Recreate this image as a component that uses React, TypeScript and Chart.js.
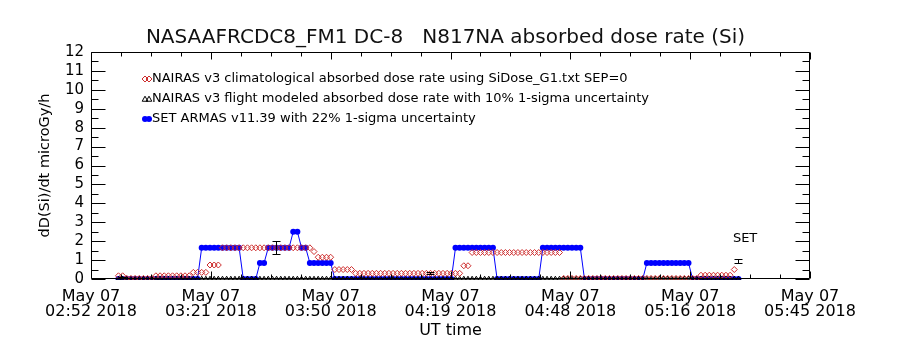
import React, { useEffect, useRef } from 'react';
import { Chart, registerables } from 'chart.js';

Chart.register(...registerables);

// ---------------- data ----------------
const TITLE = 'NASAAFRCDC8_FM1 DC-8   N817NA absorbed dose rate (Si)';
const Y_TITLE = 'dD(Si)/dt microGy/h';
const X_TITLE = 'UT time';

// x axis: minutes after 00:00 UT on 2018-05-07
const X_TICK_MINUTES = [172.9, 201.7, 230.5, 259.3, 288.1, 316.9, 345.7];
const X_TICK_LABELS = [
  ['May 07', '02:52 2018'],
  ['May 07', '03:21 2018'],
  ['May 07', '03:50 2018'],
  ['May 07', '04:19 2018'],
  ['May 07', '04:48 2018'],
  ['May 07', '05:16 2018'],
  ['May 07', '05:45 2018'],
];
const Y_MIN = 0;
const Y_MAX = 12;

// one sample per minute, first sample at this time (minutes UT)
const SAMPLE_START = 179.5;
const SAMPLE_STEP = 1;

const NAIRAS_CLIM_LABEL = 'NAIRAS v3 climatological absorbed dose rate using SiDose_G1.txt SEP=0';
const NAIRAS_CLIM = [
  0.17, 0.17,
  0.03, 0.03, 0.03, 0.03, 0.03, 0.03, 0.03,
  0.17, 0.17, 0.17, 0.17, 0.17, 0.17, 0.17, 0.17, 0.17,
  0.35, 0.35, 0.35, 0.35,
  0.74, 0.74, 0.74,
  1.65, 1.65, 1.65, 1.65, 1.65, 1.65, 1.65, 1.65, 1.65, 1.65, 1.65,
  1.65, 1.65, 1.65, 1.65, 1.65, 1.65, 1.65, 1.65, 1.65, 1.65, 1.65,
  1.45,
  1.15, 1.15, 1.15, 1.15,
  0.5, 0.5, 0.5, 0.5, 0.5,
  0.3, 0.3, 0.3, 0.3, 0.3, 0.3, 0.3, 0.3, 0.3, 0.3, 0.3, 0.3, 0.3,
  0.3, 0.3, 0.3, 0.3, 0.3, 0.3, 0.3, 0.3, 0.3, 0.3, 0.3, 0.3, 0.3,
  0.7, 0.7,
  1.4, 1.4, 1.4, 1.4, 1.4, 1.4, 1.4, 1.4, 1.4, 1.4, 1.4,
  1.4, 1.4, 1.4, 1.4, 1.4, 1.4, 1.4, 1.4, 1.4, 1.4, 1.4,
  0.03, 0.03, 0.03, 0.03, 0.03, 0.03, 0.03, 0.03, 0.03, 0.03, 0.03,
  0.03, 0.03, 0.03, 0.03, 0.03, 0.03, 0.03, 0.03, 0.03, 0.03, 0.03,
  0.03, 0.03, 0.03, 0.03, 0.03, 0.03, 0.03, 0.03, 0.03, 0.03, 0.03,
  0.2, 0.2, 0.2, 0.2, 0.2, 0.2, 0.2, 0.2,
  0.5,
];

const NAIRAS_FLIGHT_LABEL = 'NAIRAS v3 flight modeled absorbed dose rate with 10% 1-sigma uncertainty';
const NAIRAS_FLIGHT = [
  0.02, 0.02, 0.02, 0.02, 0.02, 0.02, 0.02, 0.02, 0.02, 0.02,
  0.02, 0.02, 0.02, 0.02, 0.02, 0.02, 0.02, 0.02, 0.02, 0.02,
  0.02, 0.02, 0.02, 0.02, 0.02, 0.02, 0.02, 0.02, 0.02, 0.02,
  0.02, 0.02, 0.02, 0.02, 0.02, 0.02, 0.02, 0.02, 0.02, 0.02,
  0.02, 0.02, 0.02, 0.02, 0.02, 0.02, 0.02, 0.02, 0.02, 0.02,
  0.02, 0.02, 0.02, 0.02, 0.02, 0.02, 0.02, 0.02, 0.02, 0.02,
  0.02, 0.02, 0.02, 0.02, 0.02, 0.02, 0.02, 0.02, 0.02, 0.02,
  0.02, 0.02, 0.02, 0.02, 0.02, 0.02, 0.02, 0.02, 0.02, 0.02,
  0.02, 0.02, 0.02, 0.02, 0.02, 0.02, 0.02, 0.02, 0.02, 0.02,
  0.02, 0.02, 0.02, 0.02, 0.02, 0.02, 0.02, 0.02, 0.02, 0.02,
  0.02, 0.02, 0.02, 0.02, 0.02, 0.02, 0.02, 0.02, 0.02, 0.02,
  0.02, 0.02, 0.02, 0.02, 0.02, 0.02, 0.02, 0.02, 0.02, 0.02,
  0.02, 0.02, 0.02, 0.02, 0.02, 0.02, 0.02, 0.02, 0.02, 0.02,
  0.02, 0.02, 0.02, 0.02, 0.02, 0.02, 0.02, 0.02, 0.02, 0.02,
  0.02, 0.02, 0.02, 0.02, 0.02, 0.02, 0.02, 0.02, 0.02, 0.02,
];

const SET_LABEL = 'SET ARMAS v11.39 with 22% 1-sigma uncertainty';
const SET_ARMAS = [
  0, 0, 0, 0, 0, 0, 0, 0, 0, 0, 0, 0, 0, 0, 0, 0, 0, 0, 0, 0,
  1.65, 1.65, 1.65, 1.65, 1.65, 1.65, 1.65, 1.65, 1.65, 1.65,
  0, 0, 0, 0,
  0.85, 0.85,
  1.65, 1.65, 1.65, 1.65, 1.65, 1.65,
  2.5, 2.5,
  1.65, 1.65,
  0.85, 0.85, 0.85, 0.85, 0.85, 0.85,
  0, 0, 0, 0, 0, 0, 0, 0, 0, 0, 0, 0, 0, 0, 0,
  0, 0, 0, 0, 0, 0, 0, 0, 0, 0, 0, 0, 0, 0,
  1.65, 1.65, 1.65, 1.65, 1.65, 1.65, 1.65, 1.65, 1.65, 1.65,
  0, 0, 0, 0, 0, 0, 0, 0, 0, 0, 0,
  1.65, 1.65, 1.65, 1.65, 1.65, 1.65, 1.65, 1.65, 1.65, 1.65,
  0, 0, 0, 0, 0, 0, 0, 0, 0, 0, 0, 0, 0, 0, 0,
  0.85, 0.85, 0.85, 0.85, 0.85, 0.85, 0.85, 0.85, 0.85, 0.85, 0.85,
  0, 0, 0, 0, 0, 0, 0, 0, 0, 0, 0, 0,
];

// representative 1-sigma error bars
const ERR_MINUTES = [180.3, 217.4, 254.4, 328.4];
const ERR_VALUES = [0.08, 1.65, 0.33, 0.94];
const ERR_SIGMAS = [0.02, 0.34, 0.05, 0.1];

// "SET" annotation
const NOTE_TEXT = 'SET';
const NOTE_MINUTE = 330.1;
const NOTE_VALUE = 2.15;

// ---------------- styles ----------------
const FONT = 'DejaVu Sans';
const RED = 'rgb(205,45,45)';
const BLUE = '#0000ff';
const BLACK = '#000000';

const toPoints = (vals: number[]) =>
  vals.map((v, i) => ({ x: SAMPLE_START + i * SAMPLE_STEP, y: v }));

function drawMarker(ctx: CanvasRenderingContext2D, kind: string, x: number, y: number, color: string) {
  ctx.beginPath();
  if (kind === 'diamond') {
    const r = 3;
    ctx.moveTo(x - r, y); ctx.lineTo(x, y - r); ctx.lineTo(x + r, y); ctx.lineTo(x, y + r); ctx.closePath();
    ctx.strokeStyle = color; ctx.lineWidth = 1; ctx.stroke();
  } else if (kind === 'triangle') {
    const r = 2.8;
    ctx.moveTo(x, y - r); ctx.lineTo(x + r, y + r * 0.8); ctx.lineTo(x - r, y + r * 0.8); ctx.closePath();
    ctx.strokeStyle = color; ctx.lineWidth = 1; ctx.stroke();
  } else {
    ctx.arc(x, y, 3, 0, Math.PI * 2);
    ctx.fillStyle = color; ctx.fill();
  }
}

const idlPlugin = {
  id: 'idlDecor',
  afterDatasetsDraw(chart: any) {
    const { ctx, chartArea: a, scales } = chart;
    const xs = scales.x;
    const ys = scales.y;
    ctx.save();
    ctx.strokeStyle = BLACK;
    ctx.lineWidth = 1;

    // error bars
    ERR_MINUTES.forEach((m, k) => {
      const px = Math.round(xs.getPixelForValue(m)) + 0.5;
      const t = Math.round(ys.getPixelForValue(ERR_VALUES[k] + ERR_SIGMAS[k])) + 0.5;
      const b = Math.round(ys.getPixelForValue(ERR_VALUES[k] - ERR_SIGMAS[k])) + 0.5;
      ctx.beginPath();
      ctx.moveTo(px, t); ctx.lineTo(px, b);
      ctx.moveTo(px - 4, t); ctx.lineTo(px + 4, t);
      ctx.moveTo(px - 4, b); ctx.lineTo(px + 4, b);
      ctx.stroke();
    });

    // frame
    const L = Math.round(a.left) + 0.5;
    const R = Math.round(a.right) - 0.5;
    const T = Math.round(a.top) + 0.5;
    const B = Math.round(a.bottom) - 0.5;
    ctx.beginPath();
    ctx.rect(L, T, R - L, B - T);
    ctx.stroke();

    // y ticks (inward, both sides)
    ctx.beginPath();
    for (let v = Y_MIN; v <= Y_MAX; v += 0.5) {
      const py = Math.round(ys.getPixelForValue(v)) + 0.5;
      const len = Number.isInteger(v) ? 14 : 7;
      ctx.moveTo(L, py); ctx.lineTo(L + len, py);
      ctx.moveTo(R, py); ctx.lineTo(R - len, py);
    }
    // x ticks (inward, top and bottom)
    X_TICK_MINUTES.forEach((m, k) => {
      const px = Math.round(xs.getPixelForValue(m)) + 0.5;
      ctx.moveTo(px, B); ctx.lineTo(px, B - 7);
      ctx.moveTo(px, T); ctx.lineTo(px, T + 7);
      if (k < X_TICK_MINUTES.length - 1) {
        const next = X_TICK_MINUTES[k + 1];
        for (let q = 1; q < 4; q++) {
          const mm = m + ((next - m) * q) / 4;
          const qx = Math.round(xs.getPixelForValue(mm)) + 0.5;
          ctx.moveTo(qx, B); ctx.lineTo(qx, B - 4);
          ctx.moveTo(qx, T); ctx.lineTo(qx, T + 4);
        }
      }
    });
    ctx.stroke();

    // legend
    const items = [
      { kind: 'diamond', color: RED, text: NAIRAS_CLIM_LABEL },
      { kind: 'triangle', color: BLACK, text: NAIRAS_FLIGHT_LABEL },
      { kind: 'circle', color: BLUE, text: SET_LABEL },
    ];
    ctx.font = `13px "${FONT}"`;
    ctx.textAlign = 'left';
    ctx.textBaseline = 'middle';
    items.forEach((it, k) => {
      const ly = a.top + 27 + k * 20;
      const lx = a.left + 54;
      drawMarker(ctx, it.kind, lx, ly, it.color);
      drawMarker(ctx, it.kind, lx + 4, ly, it.color);
      ctx.fillStyle = BLACK;
      ctx.fillText(it.text, lx + 7, ly);
    });

    // SET note
    ctx.font = `13px "${FONT}"`;
    ctx.textAlign = 'center';
    ctx.fillStyle = BLACK;
    ctx.fillText(NOTE_TEXT, xs.getPixelForValue(NOTE_MINUTE), ys.getPixelForValue(NOTE_VALUE));

    // title
    ctx.font = `20px "${FONT}"`;
    ctx.fillStyle = '#111';
    ctx.textAlign = 'center';
    ctx.fillText(TITLE, (a.left + a.right) / 2 - 5, 38);
    ctx.restore();
  },
};

export default function App() {
  const ref = useRef<HTMLCanvasElement | null>(null);

  useEffect(() => {
    if (!ref.current) return;
    const chart = new Chart(ref.current, {
      type: 'line',
      data: {
        datasets: [
          {
            label: NAIRAS_CLIM_LABEL,
            data: toPoints(NAIRAS_CLIM),
            showLine: false,
            pointStyle: 'rectRot',
            pointRadius: 3,
            pointBorderWidth: 1,
            borderColor: RED,
            backgroundColor: 'rgba(255,255,255,0)',
            clip: 1,
          },
          {
            label: NAIRAS_FLIGHT_LABEL,
            data: toPoints(NAIRAS_FLIGHT),
            showLine: false,
            pointStyle: 'triangle',
            pointRadius: 2.4,
            pointBorderWidth: 1,
            borderColor: BLACK,
            backgroundColor: 'rgba(255,255,255,0)',
            clip: 1,
          },
          {
            label: SET_LABEL,
            data: toPoints(SET_ARMAS),
            showLine: true,
            borderWidth: 1,
            borderColor: BLUE,
            backgroundColor: BLUE,
            pointStyle: 'circle',
            pointRadius: 3,
            pointBorderWidth: 0,
            tension: 0,
            clip: 1,
          },
        ] as any,
      },
      options: {
        responsive: false,
        animation: false,
        devicePixelRatio: 1,
        layout: { padding: { top: 52, right: 90, left: 0, bottom: 0 } },
        plugins: {
          legend: { display: false },
          title: { display: false },
          tooltip: { enabled: false },
        },
        scales: {
          x: {
            type: 'linear',
            min: X_TICK_MINUTES[0],
            max: X_TICK_MINUTES[X_TICK_MINUTES.length - 1],
            afterBuildTicks: (s: any) => {
              s.ticks = X_TICK_MINUTES.map((v) => ({ value: v }));
            },
            afterFit: (s: any) => {
              s.height = 71;
            },
            grid: { display: false, drawTicks: false },
            border: { display: false },
            ticks: {
              autoSkip: false,
              maxRotation: 0,
              minRotation: 0,
              padding: 10.5,
              color: BLACK,
              font: { family: FONT, size: 16, lineHeight: 0.94 },
              callback: (_v: any, i: number) => X_TICK_LABELS[i],
            },
            title: {
              display: true,
              text: X_TITLE,
              color: BLACK,
              font: { family: FONT, size: 16, lineHeight: 1 },
              padding: { top: 0, bottom: 11 },
            },
          },
          y: {
            type: 'linear',
            min: Y_MIN,
            max: Y_MAX,
            afterFit: (s: any) => {
              s.width = 91;
            },
            grid: { display: false, drawTicks: false },
            border: { display: false },
            ticks: {
              stepSize: 1,
              padding: 7,
              color: BLACK,
              font: { family: FONT, size: 15, lineHeight: 1 },
            },
            title: {
              display: true,
              text: Y_TITLE,
              color: BLACK,
              font: { family: FONT, size: 14.5, lineHeight: 1 },
              padding: { top: 38, bottom: 0 },
            },
          },
        },
      } as any,
      plugins: [idlPlugin],
    });
    return () => chart.destroy();
  }, []);

  return (
    <div style={{ position: 'fixed', left: 0, top: 0, width: 900, height: 350, background: '#fff' }}>
      <canvas ref={ref} width={900} height={350} style={{ display: 'block', width: 900, height: 350 }} />
    </div>
  );
}
